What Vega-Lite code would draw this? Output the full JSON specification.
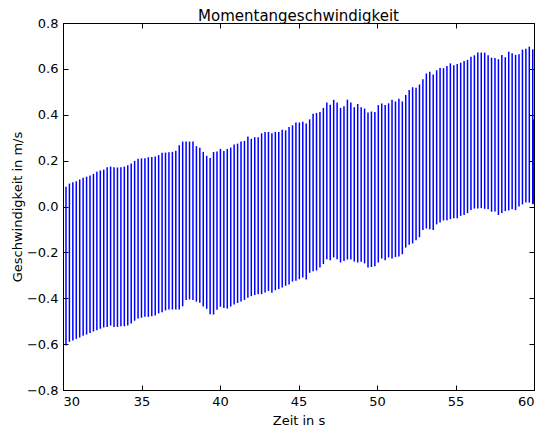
{
  "$schema": "https://vega.github.io/schema/vega-lite/v6.json",
  "width": 471,
  "height": 367,
  "autosize": {"type": "none"},
  "padding": {"left": 63, "top": 23, "right": 6, "bottom": 38},
  "background": "white",
  "title": {"text": "Momentangeschwindigkeit", "font": "DejaVu Sans", "fontSize": 15, "fontWeight": "normal", "color": "black", "offset": 4, "dy": 11},
  "config": {
    "view": {"stroke": "black", "strokeWidth": 1},
    "axis": {"grid": false, "domainColor": "black", "tickColor": "black", "labelColor": "black", "titleColor": "black", "labelFont": "DejaVu Sans", "titleFont": "DejaVu Sans", "labelFontSize": 13, "titleFontSize": 13, "titleFontWeight": "normal", "tickSize": -5, "labelPadding": 10}
  },
  "data": {"values": [
    {"t":30.190,"lo":-0.606,"hi":0.086},{"t":30.409,"lo":-0.590,"hi":0.100},{"t":30.627,"lo":-0.584,"hi":0.106},{"t":30.846,"lo":-0.577,"hi":0.110},
    {"t":31.064,"lo":-0.571,"hi":0.118},{"t":31.283,"lo":-0.564,"hi":0.125},{"t":31.502,"lo":-0.558,"hi":0.130},{"t":31.720,"lo":-0.551,"hi":0.135},
    {"t":31.939,"lo":-0.545,"hi":0.142},{"t":32.157,"lo":-0.539,"hi":0.151},{"t":32.376,"lo":-0.533,"hi":0.157},{"t":32.595,"lo":-0.527,"hi":0.161},
    {"t":32.813,"lo":-0.525,"hi":0.171},{"t":33.032,"lo":-0.519,"hi":0.174},{"t":33.250,"lo":-0.525,"hi":0.171},{"t":33.469,"lo":-0.525,"hi":0.170},
    {"t":33.688,"lo":-0.522,"hi":0.171},{"t":33.906,"lo":-0.522,"hi":0.174},{"t":34.125,"lo":-0.519,"hi":0.180},{"t":34.343,"lo":-0.510,"hi":0.187},
    {"t":34.562,"lo":-0.498,"hi":0.199},{"t":34.781,"lo":-0.488,"hi":0.208},{"t":34.999,"lo":-0.485,"hi":0.210},{"t":35.218,"lo":-0.481,"hi":0.210},
    {"t":35.436,"lo":-0.481,"hi":0.215},{"t":35.655,"lo":-0.478,"hi":0.216},{"t":35.874,"lo":-0.475,"hi":0.218},{"t":36.092,"lo":-0.466,"hi":0.224},
    {"t":36.311,"lo":-0.461,"hi":0.234},{"t":36.529,"lo":-0.453,"hi":0.235},{"t":36.748,"lo":-0.449,"hi":0.237},{"t":36.967,"lo":-0.449,"hi":0.238},
    {"t":37.185,"lo":-0.449,"hi":0.243},{"t":37.404,"lo":-0.449,"hi":0.267},{"t":37.622,"lo":-0.435,"hi":0.283},{"t":37.841,"lo":-0.408,"hi":0.283},
    {"t":38.060,"lo":-0.405,"hi":0.283},{"t":38.278,"lo":-0.408,"hi":0.283},{"t":38.497,"lo":-0.415,"hi":0.263},{"t":38.715,"lo":-0.420,"hi":0.256},
    {"t":38.934,"lo":-0.436,"hi":0.238},{"t":39.153,"lo":-0.446,"hi":0.221},{"t":39.371,"lo":-0.470,"hi":0.211},{"t":39.590,"lo":-0.471,"hi":0.238},
    {"t":39.808,"lo":-0.450,"hi":0.240},{"t":40.027,"lo":-0.437,"hi":0.251},{"t":40.246,"lo":-0.442,"hi":0.242},{"t":40.464,"lo":-0.445,"hi":0.251},
    {"t":40.683,"lo":-0.436,"hi":0.257},{"t":40.901,"lo":-0.427,"hi":0.270},{"t":41.120,"lo":-0.421,"hi":0.274},{"t":41.339,"lo":-0.414,"hi":0.283},
    {"t":41.557,"lo":-0.407,"hi":0.286},{"t":41.776,"lo":-0.398,"hi":0.305},{"t":41.994,"lo":-0.391,"hi":0.295},{"t":42.213,"lo":-0.386,"hi":0.302},
    {"t":42.432,"lo":-0.383,"hi":0.302},{"t":42.650,"lo":-0.382,"hi":0.319},{"t":42.869,"lo":-0.375,"hi":0.325},{"t":43.087,"lo":-0.368,"hi":0.325},
    {"t":43.306,"lo":-0.376,"hi":0.319},{"t":43.525,"lo":-0.365,"hi":0.325},{"t":43.743,"lo":-0.360,"hi":0.325},{"t":43.962,"lo":-0.353,"hi":0.335},
    {"t":44.180,"lo":-0.346,"hi":0.332},{"t":44.399,"lo":-0.340,"hi":0.347},{"t":44.618,"lo":-0.327,"hi":0.354},{"t":44.836,"lo":-0.324,"hi":0.366},
    {"t":45.055,"lo":-0.317,"hi":0.366},{"t":45.273,"lo":-0.310,"hi":0.369},{"t":45.492,"lo":-0.318,"hi":0.362},{"t":45.711,"lo":-0.289,"hi":0.380},
    {"t":45.929,"lo":-0.282,"hi":0.404},{"t":46.148,"lo":-0.279,"hi":0.408},{"t":46.366,"lo":-0.266,"hi":0.412},{"t":46.585,"lo":-0.251,"hi":0.430},
    {"t":46.804,"lo":-0.230,"hi":0.453},{"t":47.022,"lo":-0.234,"hi":0.444},{"t":47.241,"lo":-0.222,"hi":0.465},{"t":47.459,"lo":-0.230,"hi":0.453},
    {"t":47.678,"lo":-0.244,"hi":0.430},{"t":47.897,"lo":-0.238,"hi":0.437},{"t":48.115,"lo":-0.231,"hi":0.466},{"t":48.334,"lo":-0.231,"hi":0.453},
    {"t":48.552,"lo":-0.240,"hi":0.433},{"t":48.771,"lo":-0.244,"hi":0.447},{"t":48.990,"lo":-0.241,"hi":0.433},{"t":49.208,"lo":-0.248,"hi":0.427},
    {"t":49.427,"lo":-0.266,"hi":0.410},{"t":49.645,"lo":-0.264,"hi":0.414},{"t":49.864,"lo":-0.261,"hi":0.412},{"t":50.083,"lo":-0.244,"hi":0.442},
    {"t":50.301,"lo":-0.227,"hi":0.449},{"t":50.520,"lo":-0.234,"hi":0.443},{"t":50.738,"lo":-0.222,"hi":0.450},{"t":50.957,"lo":-0.227,"hi":0.465},
    {"t":51.176,"lo":-0.220,"hi":0.458},{"t":51.394,"lo":-0.218,"hi":0.470},{"t":51.613,"lo":-0.208,"hi":0.458},{"t":51.831,"lo":-0.179,"hi":0.486},
    {"t":52.050,"lo":-0.167,"hi":0.508},{"t":52.269,"lo":-0.161,"hi":0.520},{"t":52.487,"lo":-0.147,"hi":0.518},{"t":52.706,"lo":-0.134,"hi":0.532},
    {"t":52.924,"lo":-0.102,"hi":0.555},{"t":53.143,"lo":-0.096,"hi":0.580},{"t":53.362,"lo":-0.099,"hi":0.588},{"t":53.580,"lo":-0.102,"hi":0.575},
    {"t":53.799,"lo":-0.078,"hi":0.594},{"t":54.017,"lo":-0.070,"hi":0.604},{"t":54.236,"lo":-0.061,"hi":0.603},{"t":54.455,"lo":-0.060,"hi":0.613},
    {"t":54.673,"lo":-0.055,"hi":0.624},{"t":54.892,"lo":-0.051,"hi":0.616},{"t":55.110,"lo":-0.051,"hi":0.621},{"t":55.329,"lo":-0.041,"hi":0.627},
    {"t":55.548,"lo":-0.037,"hi":0.634},{"t":55.766,"lo":-0.029,"hi":0.639},{"t":55.985,"lo":-0.015,"hi":0.653},{"t":56.203,"lo":-0.009,"hi":0.659},
    {"t":56.422,"lo":-0.009,"hi":0.671},{"t":56.641,"lo":-0.007,"hi":0.671},{"t":56.859,"lo":-0.010,"hi":0.671},{"t":57.078,"lo":-0.012,"hi":0.659},
    {"t":57.296,"lo":-0.023,"hi":0.649},{"t":57.515,"lo":-0.022,"hi":0.647},{"t":57.734,"lo":-0.037,"hi":0.642},{"t":57.952,"lo":-0.028,"hi":0.661},
    {"t":58.171,"lo":-0.020,"hi":0.651},{"t":58.389,"lo":-0.017,"hi":0.675},{"t":58.608,"lo":-0.012,"hi":0.668},{"t":58.827,"lo":-0.016,"hi":0.661},
    {"t":59.045,"lo":0.000,"hi":0.664},{"t":59.264,"lo":0.009,"hi":0.684},{"t":59.482,"lo":0.017,"hi":0.688},{"t":59.701,"lo":0.017,"hi":0.697},
    {"t":59.920,"lo":0.010,"hi":0.685},{"t":59.990,"lo":0.012,"hi":0.380}
  ]},
  "layer": [
    {
      "mark": {"type": "rule", "color": "#0000ff", "strokeWidth": 1.5, "clip": true},
      "encoding": {
        "x": {"field": "t", "type": "quantitative", "scale": {"domain": [30, 60], "nice": false, "zero": false},
              "axis": {"orient": "bottom", "values": [30, 35, 40, 45, 50, 55, 60], "format": "d", "title": "Zeit in s", "titlePadding": 6}},
        "y": {"field": "lo", "type": "quantitative", "scale": {"domain": [-0.8, 0.8], "nice": false, "zero": false},
              "axis": {"orient": "left", "values": [-0.8, -0.6, -0.4, -0.2, 0, 0.2, 0.4, 0.6, 0.8], "format": ".1f", "title": "Geschwindigkeit in m/s", "titlePadding": 2}},
        "y2": {"field": "hi"}
      }
    },
    {
      "mark": {"type": "rule", "opacity": 0},
      "encoding": {
        "x": {"field": "t", "type": "quantitative",
              "axis": {"orient": "top", "values": [30, 35, 40, 45, 50, 55, 60], "labels": false, "title": null}},
        "y": {"field": "lo", "type": "quantitative",
              "axis": {"orient": "right", "values": [-0.8, -0.6, -0.4, -0.2, 0, 0.2, 0.4, 0.6, 0.8], "labels": false, "title": null}},
        "y2": {"field": "hi"}
      }
    }
  ],
  "resolve": {"axis": {"x": "independent", "y": "independent"}}
}
